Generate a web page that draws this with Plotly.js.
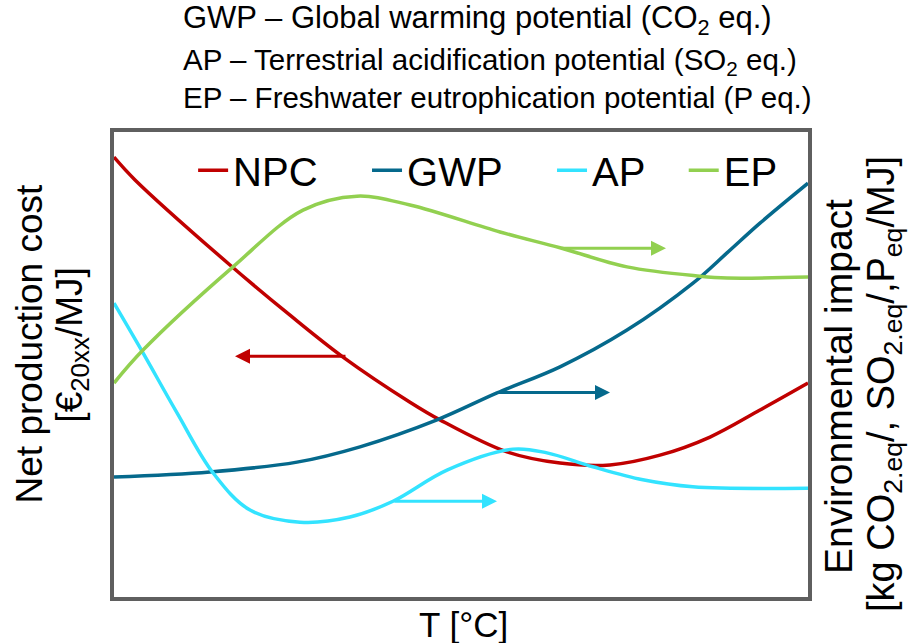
<!DOCTYPE html>
<html>
<head>
<meta charset="utf-8">
<script src="https://cdn.plot.ly/plotly-3.0.1.min.js"></script>
<style>html,body{margin:0;padding:0;background:#fff;}#chart{width:912px;height:643px;}</style>
</head>
<body>
<div id="chart"></div>
<script>
// Schematic curves (relative units, 0-100 on both axes)
const npcX = [0, 3.03, 16.71, 25.36, 33.0, 42.65, 46.97, 56.63, 64.27, 71.47, 78.67, 85.88, 93.08, 100];
const npcY = [94.6, 89.7, 71.4, 60.6, 51.6, 41.9, 38.1, 31.2, 28.8, 28.4, 30.5, 34.4, 40.2, 46.0];

const gwpX = [0, 13.83, 26.37, 35.45, 46.54, 55.19, 64.27, 73.92, 83.43, 88.33, 93.08, 100];
const gwpY = [25.8, 26.9, 29.0, 32.3, 38.1, 43.9, 49.5, 57.4, 67.5, 74.0, 80.4, 89.0];

const apX = [0, 4.18, 9.08, 14.27, 19.6, 26.8, 34.0, 40.2, 47.98, 57.49, 62.39, 69.0, 76.2, 83.4, 100];
const apY = [63.2, 52.5, 39.6, 26.7, 18.7, 16.1, 17.2, 20.6, 27.3, 31.8, 31.0, 28.0, 25.2, 23.7, 23.4];

const epX = [0, 4.18, 17.15, 27.23, 35.01, 42.65, 55.62, 64.27, 73.92, 84.44, 88.33, 100];
const epY = [46.0, 53.1, 71.0, 83.2, 86.2, 84.3, 78.5, 75.1, 71.0, 69.0, 68.6, 68.8];

// Direction arrows: [tailX, tailY, tipX, tipY]
const arrowNPC = [33.57, 51.8, 17.44, 51.8];
const arrowGWP = [55.19, 44.0, 71.47, 44.0];
const arrowEP  = [64.27, 75.0, 79.54, 75.0];
const arrowAP  = [40.2, 20.6, 55.19, 20.6];

const seriesNames = ['NPC', 'GWP', 'AP', 'EP'];
const colors = {NPC: '#C00000', GWP: '#05698C', AP: '#33E3FF', EP: '#92D050'};

const titleLines = [
  'GWP – Global warming potential (CO<sub>2</sub> eq.)',
  'AP – Terrestrial acidification potential (SO<sub>2</sub> eq.)',
  'EP – Freshwater eutrophication potential (P eq.)'
];

const FONT = 'Liberation Sans, Arial, sans-serif';
const NB = '\u00a0';

function tr(name, x, y, pad) {
  return {x: x, y: y, name: name + pad, type: 'scatter', mode: 'lines',
    line: {color: colors[name], width: 3.5, shape: 'spline', smoothing: 1},
    hoverinfo: 'skip'};
}
const data = [
  tr('NPC', npcX, npcY, NB.repeat(4)),
  tr('GWP', gwpX, gwpY, NB.repeat(4)),
  tr('AP', apX, apY, NB.repeat(3)),
  tr('EP', epX, epY, '')
];

function arrow(a, col) {
  return {x: a[2], y: a[3], ax: a[0], ay: a[1], xref: 'x', yref: 'y', axref: 'x', ayref: 'y',
    text: '', showarrow: true, arrowhead: 2, arrowsize: 1, arrowwidth: 3, arrowcolor: col, standoff: 0, startstandoff: 0};
}

function topLine(txt, y, size) {
  return {xref: 'paper', yref: 'paper', x: 0.0965, y: y, xanchor: 'left', yanchor: 'middle', align: 'left', showarrow: false,
    font: {family: FONT, size: size, color: '#000'}, text: txt};
}

const annotations = [
  arrow(arrowNPC, colors.NPC), arrow(arrowGWP, colors.GWP), arrow(arrowEP, colors.EP), arrow(arrowAP, colors.AP),
  topLine(titleLines[0], 1.241, 31),
  topLine(titleLines[1], 1.151, 29.5),
  topLine(titleLines[2], 1.074, 29.5),
  {xref: 'paper', yref: 'paper', x: -0.122, y: 0.546, xanchor: 'center', yanchor: 'middle', textangle: -90, showarrow: false,
   font: {family: FONT, size: 37, color: '#000'}, text: 'Net production cost'},
  {xref: 'paper', yref: 'paper', x: -0.061, y: 0.542, xanchor: 'center', yanchor: 'middle', textangle: -90, showarrow: false,
   font: {family: FONT, size: 37, color: '#000'}, text: '[€<sub>20xx</sub>/MJ]'},
  {xref: 'paper', yref: 'paper', x: 1.045, y: 0.452, xanchor: 'center', yanchor: 'middle', textangle: -90, showarrow: false,
   font: {family: FONT, size: 39, color: '#000'}, text: 'Environmental impact'},
  {xref: 'paper', yref: 'paper', x: 1.1095, y: 0.458, xanchor: 'center', yanchor: 'middle', textangle: -90, showarrow: false,
   font: {family: FONT, size: 38, color: '#000'}, text: '[kg CO<sub>2.eq</sub>/, SO<sub>2.eq</sub>/,P<sub>eq</sub>/MJ]'},
  {xref: 'paper', yref: 'paper', x: 0.503, y: -0.060, xanchor: 'center', yanchor: 'middle', showarrow: false,
   font: {family: FONT, size: 35, color: '#000'}, text: 'T [°C]'}
];

const axisCommon = {range: [0, 100], showgrid: false, zeroline: false, showticklabels: false, ticks: '',
  showline: true, mirror: true, linecolor: '#5f5f5f', linewidth: 4, fixedrange: true};

const layout = {
  width: 912, height: 643,
  margin: {l: 114, r: 104, t: 132, b: 46, pad: 0},
  paper_bgcolor: '#fff', plot_bgcolor: '#fff',
  font: {family: FONT, color: '#000'},
  xaxis: Object.assign({}, axisCommon),
  yaxis: Object.assign({}, axisCommon),
  showlegend: true,
  legend: {orientation: 'h', x: 0.114, y: 0.918, xanchor: 'left', yanchor: 'middle',
    font: {family: FONT, size: 40, color: '#000'}, bgcolor: 'rgba(0,0,0,0)', borderwidth: 0},
  annotations: annotations
};

Plotly.newPlot('chart', data, layout, {staticPlot: true, displayModeBar: false});
</script>
</body>
</html>
